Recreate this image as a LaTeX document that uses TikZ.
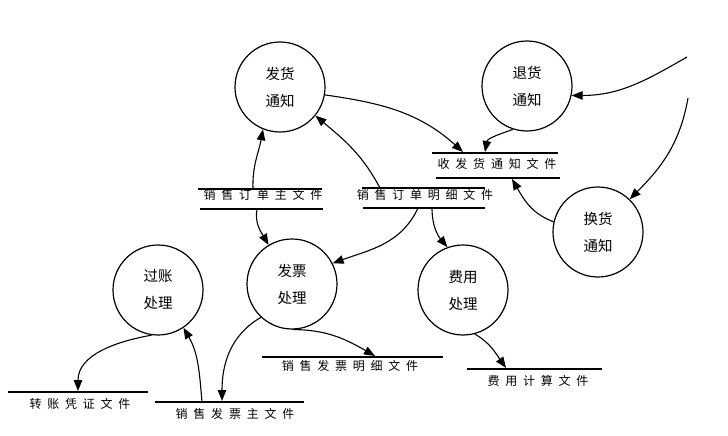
\documentclass[tikz,border=0pt]{standalone}
\usepackage{fontspec}
\setmainfont{Noto Sans CJK SC}
\newfontfamily\storefont[LetterSpace=48]{Noto Sans CJK SC}
\usetikzlibrary{arrows.meta}
\begin{document}
\begin{tikzpicture}[x=1pt,y=1pt,
  proc/.style={draw,circle,line width=1.2pt,minimum size=90pt,inner sep=0pt,
    align=center,font=\fontsize{14.5}{27}\selectfont},
  storeline/.style={line width=1.1pt},
  storetext/.style={inner sep=0pt,font=\storefont\fontsize{12}{12}\selectfont},
  flow/.style={line width=1.1pt,-{Triangle[length=11pt,width=8.5pt]}}]
\useasboundingbox (0,0) rectangle (728,-436);
% processes
\node[proc] (fh) at (280,-87) {发货\\通知};
\node[proc] (th) at (527,-86) {退货\\通知};
\node[proc] (hh) at (598,-232) {换货\\通知};
\node[proc] (fy) at (463,-290) {费用\\处理};
\node[proc] (fp) at (292,-284) {发票\\处理};
\node[proc] (gz) at (158,-290) {过账\\处理};
% stores
\draw[storeline] (432,-153) -- (558,-153) (436,-178) -- (560,-178);
\node[storetext] (s1) at (497,-164) {收发货通知文件};
\draw[storeline] (198,-189) -- (322,-189) (200,-209) -- (323,-209);
\node[storetext] (s2) at (263,-195) {销售订单主文件};
\draw[storeline] (362,-188) -- (485,-188) (363,-208) -- (485,-208);
\node[storetext] (s3) at (425,-195) {销售订单明细文件};
\draw[storeline] (262,-357) -- (443,-357);
\node[storetext] (s4) at (350,-366) {销售发票明细文件};
\draw[storeline] (8,-392) -- (148,-392);
\node[storetext] (s5) at (80,-404) {转账凭证文件};
\draw[storeline] (155,-402) -- (304,-402);
\node[storetext] (s6) at (235,-414) {销售发票主文件};
\draw[storeline] (467,-369) -- (602,-369);
\node[storetext] (s7) at (538,-381) {费用计算文件};
% connector endpoints
\coordinate (a1) at (463,-152);
\coordinate (a2) at (485,-152);
\coordinate (a3) at (253,-189);
\coordinate (a4) at (380,-188);
\coordinate (a5) at (687,-57);
\coordinate (a6) at (688,-98);
\coordinate (a7) at (512,-179);
\coordinate (a8) at (257,-209);
\coordinate (a9) at (418,-208);
\coordinate (a10) at (432,-208);
\coordinate (a11) at (375,-356);
\coordinate (a12) at (222,-401);
\coordinate (a13) at (78,-391);
\coordinate (a14) at (202,-402);
\coordinate (a15) at (506,-368);
% flows
\draw[flow] (fh.-10) to[out=-8,in=138] (a1);
\draw[flow] (th.-108) to[out=-160,in=80] (a2);
\draw[flow] (a3) to[out=92,in=-100] (fh.-112);
\draw[flow] (a4) to[out=118,in=-40] (fh.-39);
\draw[flow] (a5) to[out=-150,in=0] (th.-12);
\draw[flow] (a6) to[out=-100,in=45] (hh.46);
\draw[flow] (hh.167) to[out=160,in=-60] (a7);
\draw[flow] (a8) to[out=-100,in=120] (fp.121);
\draw[flow] (a9) to[out=-115,in=20] (fp.27);
\draw[flow] (a10) to[out=-90,in=130] (fy.110);
\draw[flow] (fp.-89) to[out=0,in=150] (a11);
\draw[flow] (fp.-133) to[out=-150,in=90] (a12);
\draw[flow] (gz.-98) to[out=190,in=90] (a13);
\draw[flow] (a14) to[out=95,in=-60] (gz.-56);
\draw[flow] (fy.-75) to[out=-30,in=125] (a15);
\end{tikzpicture}
\end{document}
